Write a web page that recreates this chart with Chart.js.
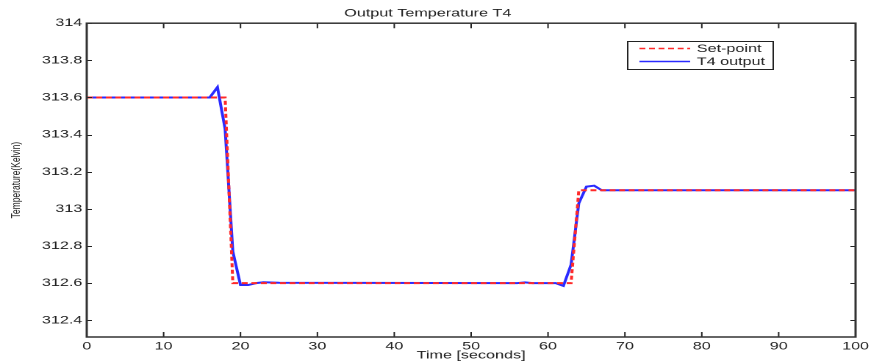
<!DOCTYPE html>
<html>
<head>
<meta charset="UTF-8">
<title>Output Temperature T4</title>
<script src="https://cdn.jsdelivr.net/npm/chart.js"></script>
<style>
  html, body { margin: 0; padding: 0; background: #fff; overflow: hidden; }
  /* the original figure is a stretched MATLAB plot, so draw narrow and widen it */
  #wrap { width: 592px; height: 364px; transform: scaleX(1.47); transform-origin: 0 0; }
</style>
</head>
<body>
<div id="wrap"><canvas id="chart" width="592" height="364"></canvas></div>
<script>
// set-point (red dashed)
const spTime = [0, 18, 19, 63, 64, 100];
const spValues = [313.6, 313.6, 312.6, 312.6, 313.1, 313.1];

// measured T4 output (blue)
const outTime = [0, 16, 17, 18, 19, 20, 21, 22, 23, 25, 56, 57, 58, 61, 62, 63, 64, 65, 66, 67, 100];
const outValues = [313.6, 313.6, 313.655, 313.43, 312.77, 312.59, 312.59, 312.6, 312.605, 312.602, 312.6, 312.604, 312.6, 312.6, 312.585, 312.7, 313.03, 313.12, 313.125, 313.1, 313.1];

const xTicks = [0, 10, 20, 30, 40, 50, 60, 70, 80, 90, 100];
const yTicks = [312.4, 312.6, 312.8, 313, 313.2, 313.4, 313.6, 313.8, 314];

const FONT = "'Liberation Sans', Arial, sans-serif";

function pts(xs, ys) {
  return xs.map((x, i) => ({ x: x, y: ys[i] }));
}

// MATLAB style box with inward ticks, plus the boxed legend
const boxPlugin = {
  id: 'box',
  afterDatasetsDraw(chart) {
    const { ctx, chartArea: a, scales } = chart;
    ctx.save();
    ctx.strokeStyle = '#222';
    ctx.lineWidth = 1;
    ctx.beginPath();
    xTicks.forEach(v => {
      const px = scales.x.getPixelForValue(v);
      ctx.moveTo(px, a.bottom); ctx.lineTo(px, a.bottom - 5);
      ctx.moveTo(px, a.top); ctx.lineTo(px, a.top + 5);
    });
    yTicks.forEach(v => {
      const py = Math.round(scales.y.getPixelForValue(v)) + 0.5;
      ctx.moveTo(a.left, py); ctx.lineTo(a.left + 3.5, py);
      ctx.moveTo(a.right, py); ctx.lineTo(a.right - 3.5, py);
    });
    ctx.stroke();
    ctx.lineWidth = 1.5;
    ctx.strokeStyle = '#333';
    ctx.strokeRect(a.left, a.top, a.right - a.left, a.bottom - a.top);

    // legend
    const lx = 427, ly = 41, lw = 99, lh = 28;
    ctx.fillStyle = '#fff';
    ctx.fillRect(lx, ly, lw, lh);
    ctx.lineWidth = 1;
    ctx.strokeStyle = '#222';
    ctx.strokeRect(lx, ly + 0.5, lw, lh);
    ctx.font = '11px ' + FONT;
    ctx.textBaseline = 'middle';
    chart.data.datasets.forEach((ds, i) => {
      const y = ly + 7.5 + i * 13;
      ctx.strokeStyle = ds.borderColor;
      ctx.lineWidth = 1.5;
      ctx.setLineDash(ds.borderDash || []);
      ctx.beginPath();
      ctx.moveTo(lx + 8, y); ctx.lineTo(lx + 42.5, y);
      ctx.stroke();
      ctx.setLineDash([]);
      ctx.fillStyle = '#222';
      ctx.fillText(ds.label, lx + 47, y + 0.5);
    });
    ctx.restore();
  }
};

new Chart(document.getElementById('chart'), {
  type: 'line',
  data: {
    datasets: [
      {
        label: 'Set-point',
        data: pts(spTime, spValues),
        borderColor: '#ff2a2a',
        borderWidth: 2,
        borderDash: [4, 2.5],
        pointRadius: 0,
        tension: 0,
        fill: false
      },
      {
        label: 'T4 output',
        data: pts(outTime, outValues),
        borderColor: '#2a2aff',
        borderWidth: 2,
        pointRadius: 0,
        tension: 0,
        fill: false
      }
    ]
  },
  options: {
    responsive: false,
    animation: false,
    devicePixelRatio: 2,
    layout: { padding: { left: 0, right: 10, top: 0, bottom: 0 } },
    plugins: {
      legend: { display: false },
      tooltip: { enabled: false },
      title: {
        display: true,
        text: 'Output Temperature T4',
        color: '#222',
        font: { family: FONT, size: 11, weight: 'normal' },
        padding: { top: 7, bottom: 3 }
      }
    },
    scales: {
      x: {
        type: 'linear',
        min: 0,
        max: 100,
        afterBuildTicks(scale) { scale.ticks = xTicks.map(v => ({ value: v })); },
        afterFit(scale) {
          scale.height = 27;
          scale.paddingLeft = 0;
          scale.paddingRight = 0;
        },
        grid: { display: false, drawTicks: false },
        border: { display: false },
        ticks: { color: '#222', padding: 3, maxRotation: 0, font: { family: FONT, size: 11 } },
        title: {
          display: true,
          text: 'Time [seconds]',
          color: '#222',
          padding: { top: 0, bottom: 2 },
          font: { family: FONT, size: 11 }
        }
      },
      y: {
        type: 'linear',
        min: 312.31,
        max: 314,
        afterBuildTicks(scale) { scale.ticks = yTicks.map(v => ({ value: v })); },
        afterFit(scale) { scale.width = 59; },
        grid: { display: false, drawTicks: false },
        border: { display: false },
        ticks: {
          color: '#222',
          padding: 3,
          font: { family: FONT, size: 11 },
          callback: v => String(Number(v.toFixed(1)))
        },
        title: {
          display: true,
          text: 'Temperature(Kelvin)',
          color: '#222',
          padding: { top: 6, bottom: 0 },
          font: { family: FONT, size: 8.5 }
        }
      }
    }
  },
  plugins: [boxPlugin]
});
</script>
</body>
</html>
